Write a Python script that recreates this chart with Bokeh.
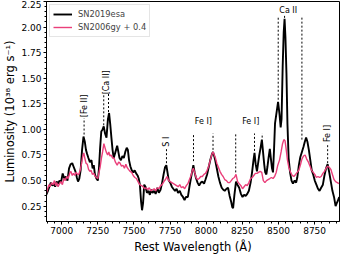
import math
from bokeh.plotting import figure
from bokeh.models import Range1d, SingleIntervalTicker, PrintfTickFormatter, ColumnDataSource
from bokeh.core.properties import value
from bokeh.embed import file_html
from bokeh.resources import INLINE

# SN2019esa spectrum (rest wavelength [A], luminosity [1e38 erg/s])
esa = [
    (6893, 0.36), (6905, 0.40), (6915, 0.44), (6925, 0.48), (6935, 0.45), (6945, 0.47), (6955, 0.44),
    (6965, 0.49), (6975, 0.47), (6985, 0.50), (6995, 0.48), (7007, 0.57), (7018, 0.52), (7029, 0.54),
    (7040, 0.50), (7051, 0.62), (7062, 0.66), (7073, 0.67), (7084, 0.63), (7095, 0.59), (7105, 0.53),
    (7113, 0.49), (7122, 0.52), (7131, 0.60), (7141, 0.80), (7151, 0.93), (7160, 0.88), (7168, 0.80),
    (7176, 0.76), (7185, 0.72), (7195, 0.68), (7206, 0.70), (7214, 0.62), (7222, 0.65), (7230, 0.56),
    (7240, 0.52), (7250, 0.50), (7258, 0.62), (7266, 0.82), (7274, 0.98), (7283, 1.00), (7291, 1.03),
    (7300, 0.96), (7310, 0.92), (7320, 1.10), (7328, 1.16), (7336, 1.05), (7344, 0.92), (7352, 0.80),
    (7360, 0.72), (7368, 0.76), (7376, 0.80), (7384, 0.84), (7392, 0.78), (7400, 0.72), (7410, 0.70),
    (7420, 0.74), (7430, 0.72), (7440, 0.78), (7450, 0.82), (7458, 0.80), (7466, 0.70), (7475, 0.64),
    (7485, 0.60), (7495, 0.58), (7505, 0.60), (7515, 0.57), (7525, 0.55), (7533, 0.52), (7541, 0.46),
    (7549, 0.30), (7556, 0.21), (7563, 0.28), (7571, 0.46), (7580, 0.44), (7590, 0.38), (7600, 0.40),
    (7610, 0.36), (7618, 0.41), (7628, 0.38), (7640, 0.40), (7650, 0.37), (7662, 0.43), (7672, 0.38),
    (7684, 0.41), (7695, 0.48), (7705, 0.56), (7715, 0.63), (7724, 0.65), (7732, 0.58), (7741, 0.50),
    (7751, 0.48), (7762, 0.44), (7772, 0.42), (7784, 0.40), (7795, 0.42), (7805, 0.38), (7817, 0.40),
    (7828, 0.36), (7839, 0.34), (7850, 0.31), (7860, 0.34), (7873, 0.34), (7884, 0.44), (7895, 0.53),
    (7904, 0.60), (7911, 0.65), (7920, 0.58), (7928, 0.53), (7940, 0.48), (7951, 0.45), (7962, 0.48),
    (7973, 0.49), (7985, 0.47), (7995, 0.51), (8006, 0.56), (8017, 0.63), (8028, 0.70), (8040, 0.76),
    (8047, 0.78), (8055, 0.74), (8062, 0.70), (8073, 0.62), (8084, 0.54), (8095, 0.48), (8107, 0.43),
    (8118, 0.41), (8128, 0.40), (8140, 0.42), (8151, 0.43), (8162, 0.35), (8173, 0.29), (8180, 0.24),
    (8186, 0.23), (8195, 0.36), (8206, 0.49), (8216, 0.46), (8228, 0.43), (8240, 0.37), (8251, 0.34),
    (8262, 0.36), (8273, 0.35), (8284, 0.37), (8295, 0.40), (8307, 0.48), (8318, 0.59), (8327, 0.70),
    (8334, 0.77), (8342, 0.66), (8351, 0.59), (8358, 0.66), (8366, 0.74), (8376, 0.82), (8385, 0.90),
    (8393, 0.78), (8401, 0.66), (8408, 0.58), (8416, 0.56), (8424, 0.64), (8431, 0.72), (8440, 0.81),
    (8447, 0.72), (8455, 0.62), (8462, 0.58), (8469, 0.80), (8476, 1.06), (8485, 1.15), (8497, 1.27),
    (8507, 1.15), (8515, 1.02), (8521, 1.10), (8529, 1.62), (8536, 1.95), (8542, 2.08), (8548, 1.90),
    (8555, 1.55), (8562, 1.05), (8570, 0.72), (8580, 0.58), (8590, 0.50), (8600, 0.47), (8612, 0.50),
    (8622, 0.48), (8630, 0.53), (8641, 0.65), (8651, 0.73), (8662, 0.78), (8673, 0.83), (8682, 0.88),
    (8691, 0.92), (8700, 0.88), (8710, 0.80), (8720, 0.70), (8730, 0.60), (8740, 0.56), (8751, 0.50),
    (8762, 0.46), (8773, 0.42), (8784, 0.40), (8795, 0.43), (8807, 0.46), (8818, 0.55), (8829, 0.62),
    (8840, 0.66), (8851, 0.58), (8862, 0.49), (8873, 0.40), (8884, 0.34), (8895, 0.25), (8903, 0.28),
    (8910, 0.30), (8920, 0.34),
]

# SN2006gy spectrum + 0.4 offset
gy = [
    (6893, 0.37), (6903, 0.42), (6912, 0.46), (6920, 0.44), (6930, 0.48), (6940, 0.46), (6950, 0.50),
    (6958, 0.45), (6966, 0.48), (6975, 0.44), (6985, 0.47), (6995, 0.49), (7005, 0.46), (7015, 0.52),
    (7025, 0.50), (7035, 0.54), (7045, 0.52), (7055, 0.57), (7064, 0.59), (7073, 0.55), (7082, 0.57),
    (7091, 0.55), (7100, 0.58), (7110, 0.56), (7118, 0.56), (7128, 0.60), (7138, 0.67), (7146, 0.74),
    (7153, 0.77), (7160, 0.72), (7168, 0.67), (7177, 0.66), (7186, 0.61), (7195, 0.59), (7204, 0.60),
    (7212, 0.56), (7222, 0.57), (7232, 0.54), (7240, 0.53), (7250, 0.52), (7258, 0.58), (7266, 0.63),
    (7275, 0.72), (7283, 0.78), (7292, 0.86), (7300, 0.82), (7308, 0.78), (7318, 0.75), (7326, 0.78),
    (7334, 0.74), (7342, 0.75), (7352, 0.72), (7362, 0.72), (7372, 0.68), (7384, 0.65), (7394, 0.68),
    (7404, 0.67), (7414, 0.64), (7424, 0.65), (7434, 0.62), (7444, 0.66), (7452, 0.63), (7462, 0.61),
    (7473, 0.59), (7484, 0.58), (7495, 0.55), (7506, 0.53), (7517, 0.52), (7528, 0.49), (7540, 0.46),
    (7552, 0.45), (7563, 0.44), (7574, 0.42), (7584, 0.43), (7595, 0.41), (7606, 0.43), (7617, 0.40),
    (7628, 0.41), (7640, 0.42), (7650, 0.40), (7662, 0.43), (7673, 0.42), (7684, 0.45), (7695, 0.46),
    (7707, 0.49), (7718, 0.51), (7729, 0.54), (7740, 0.50), (7751, 0.49), (7762, 0.48), (7773, 0.47),
    (7784, 0.46), (7795, 0.45), (7806, 0.44), (7817, 0.46), (7828, 0.43), (7840, 0.44), (7851, 0.42),
    (7862, 0.45), (7873, 0.47), (7884, 0.51), (7895, 0.55), (7904, 0.60), (7911, 0.62), (7920, 0.58),
    (7930, 0.53), (7940, 0.51), (7951, 0.52), (7962, 0.54), (7973, 0.54), (7984, 0.56), (7995, 0.57),
    (8006, 0.60), (8017, 0.64), (8028, 0.70), (8040, 0.76), (8048, 0.78), (8056, 0.75), (8064, 0.72),
    (8073, 0.67), (8084, 0.63), (8095, 0.59), (8106, 0.56), (8117, 0.54), (8128, 0.51), (8140, 0.50),
    (8151, 0.48), (8162, 0.48), (8173, 0.50), (8184, 0.52), (8195, 0.53), (8206, 0.56), (8217, 0.49),
    (8228, 0.47), (8240, 0.45), (8251, 0.42), (8262, 0.44), (8273, 0.46), (8284, 0.45), (8295, 0.48),
    (8307, 0.52), (8318, 0.53), (8329, 0.55), (8340, 0.57), (8351, 0.57), (8362, 0.58), (8373, 0.59),
    (8384, 0.58), (8395, 0.50), (8406, 0.48), (8417, 0.50), (8428, 0.51), (8440, 0.52), (8451, 0.53),
    (8462, 0.52), (8473, 0.54), (8484, 0.58), (8495, 0.65), (8507, 0.70), (8518, 0.78), (8528, 0.86),
    (8537, 0.90), (8545, 0.89), (8552, 0.82), (8562, 0.70), (8573, 0.62), (8584, 0.58), (8595, 0.55),
    (8606, 0.54), (8618, 0.56), (8629, 0.58), (8640, 0.60), (8651, 0.65), (8662, 0.71), (8673, 0.74),
    (8684, 0.75), (8695, 0.71), (8707, 0.68), (8718, 0.64), (8729, 0.60), (8740, 0.58), (8751, 0.56),
    (8762, 0.53), (8773, 0.54), (8784, 0.53), (8795, 0.54), (8807, 0.57), (8818, 0.59), (8829, 0.62),
    (8840, 0.64), (8851, 0.63), (8862, 0.61), (8873, 0.56), (8884, 0.51), (8895, 0.49), (8907, 0.48),
    (8918, 0.47),
]

# line identifications: wavelength, lower and upper end of marker
line_wl = [7155, 7291, 7324, 7725, 7912, 8047, 8204, 8334, 8387, 8498, 8542, 8662, 8840]
line_lo = [0.95, 1.04, 1.17, 0.67, 0.69, 0.80, 0.58, 0.79, 0.92, 1.29, 2.09, 0.90, 0.67]
line_hi = [1.11, 1.35, 1.35, 0.82, 0.96, 0.96, 0.96, 0.96, 0.96, 2.11, 2.11, 2.11, 0.85]

label_text = ["[Fe II]", "[Ca II]", "S I", "Fe I]", "Fe I]", "Ca II", "Fe I]"]
label_x = [7155, 7308, 7725, 7980, 8308, 8567, 8840]
label_y = [1.23, 1.46, 0.88, 1.075, 1.075, 2.16, 0.96]
label_rot = [True, True, True, False, False, False, True]

FONT = "DejaVu Sans"

p = figure(width=342, height=256, output_backend="svg", toolbar_location=None,
           x_range=Range1d(6895, 8922), y_range=Range1d(0.1, 2.25),
           min_border_left=35, min_border_right=3, min_border_top=1, min_border_bottom=33)

p.line([w for w, _ in esa], [v for _, v in esa], line_color="black", line_width=1.9,
       legend_label="SN2019esa")
p.line([w for w, _ in gy], [v for _, v in gy], line_color="#ea3f7a", line_width=1.4,
       legend_label="SN2006gy + 0.4")

p.segment(x0=line_wl, y0=line_lo, x1=line_wl, y1=line_hi, line_color="black",
          line_width=1, line_dash="2 2")

src = ColumnDataSource(dict(x=label_x, y=label_y, t=label_text,
                            a=[math.pi / 2 if r else 0 for r in label_rot]))
p.text(x="x", y="y", text="t", angle="a", source=src, text_align="center",
       text_baseline="middle", text_font=value(FONT), text_font_size="8px",
       text_color="black")

p.xgrid.visible = False
p.ygrid.visible = False
p.outline_line_color = "black"
p.outline_line_width = 1
p.background_fill_color = "white"

p.xaxis.ticker = SingleIntervalTicker(interval=250, num_minor_ticks=5)
p.yaxis.ticker = SingleIntervalTicker(interval=0.25, num_minor_ticks=5)
p.yaxis.formatter = PrintfTickFormatter(format="%.2f")

for ax in (p.xaxis, p.yaxis):
    ax.axis_line_color = "black"
    ax.major_tick_line_color = "black"
    ax.minor_tick_line_color = "black"
    ax.major_tick_in = 0
    ax.major_tick_out = 3
    ax.minor_tick_in = 0
    ax.minor_tick_out = 2
    ax.major_label_text_font = FONT
    ax.major_label_text_font_size = "9px"
    ax.major_label_text_color = "black"
    ax.axis_label_text_font = FONT
    ax.axis_label_text_font_size = "11.5px"
    ax.axis_label_text_font_style = "normal"
    ax.axis_label_text_color = "black"
    ax.major_label_standoff = 2
    ax.axis_label_standoff = 3

p.xaxis.axis_label = "Rest Wavelength (Å)"
p.yaxis.axis_label = "Luminosity (10³⁸ erg s⁻¹)"
p.yaxis.axis_label_standoff = 1

lg = p.legend[0]
lg.location = "top_left"
lg.margin = 3
lg.padding = 3
lg.spacing = 1
lg.label_height = 12
lg.glyph_height = 12
lg.glyph_width = 19
lg.label_standoff = 6
lg.label_text_font = FONT
lg.label_text_font_size = "8.3px"
lg.border_line_color = "#cccccc"
lg.border_line_width = 1
lg.background_fill_alpha = 0.8

open("out.html", "w").write(file_html(p, INLINE))
